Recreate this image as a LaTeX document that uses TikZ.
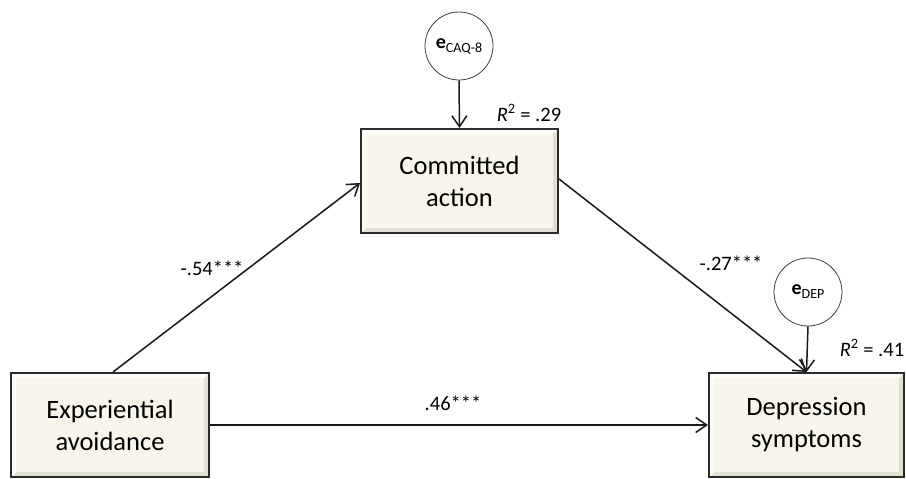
\documentclass[tikz,border=0pt]{standalone}
\usepackage{fontspec}
\setmainfont{Carlito}
\usetikzlibrary{arrows.meta}
\definecolor{boxfill}{HTML}{F8F6EA}
\definecolor{boxline}{HTML}{2B2B2B}
\definecolor{bevdark}{HTML}{E2E0D4}
\definecolor{bevlight}{HTML}{FDFCF7}
\begin{document}
\begin{tikzpicture}[x=1pt,y=-1pt,
  varbox/.style={draw=boxline, line width=2pt, fill=boxfill, minimum height=104pt,
    align=center, inner sep=0pt, font=\fontsize{26.5}{32}\selectfont,
    path picture={
      \fill[bevdark] (path picture bounding box.south west) -- (path picture bounding box.south east)
        -- (path picture bounding box.north east) -- ([xshift=-5pt,yshift=-5pt]path picture bounding box.north east)
        -- ([xshift=-5pt,yshift=5pt]path picture bounding box.south east)
        -- ([xshift=5pt,yshift=5pt]path picture bounding box.south west) -- cycle;
      \fill[bevlight] (path picture bounding box.south west) -- (path picture bounding box.north west)
        -- (path picture bounding box.north east) -- ([xshift=-5pt,yshift=-5pt]path picture bounding box.north east)
        -- ([xshift=5pt,yshift=-5pt]path picture bounding box.north west)
        -- ([xshift=5pt,yshift=5pt]path picture bounding box.south west) -- cycle;
    }},
  errc/.style={draw=black!75, line width=0.8pt, fill=white, circle, minimum size=68pt, inner sep=0pt},
  arr/.style={-{Straight Barb[length=11pt,width=15pt,line width=1.5pt]}, line width=1.5pt, draw=black!90},
  coef/.style={font=\fontsize{20.5}{24}\selectfont, inner sep=0pt},
  ebold/.style={font=\fontsize{20}{24}\selectfont}
]
\useasboundingbox[fill=white] (0,0) rectangle (906,479);

\node[varbox, minimum width=197pt] (ca) at (459.5,181) {Committed\\action};
\node[varbox, minimum width=198pt] (ea) at (110,425) {Experiential\\avoidance};
\node[varbox, minimum width=195pt] (ds) at (806.5,425) {Depression\\symptoms};

\node[errc] (ecaq) at (459,46) {{\fontsize{20}{24}\selectfont\bfseries e}\raisebox{-4pt}{\fontsize{14}{16}\selectfont CAQ-8}};
\node[errc] (edep) at (808,292) {{\fontsize{20}{24}\selectfont\bfseries e}\raisebox{-4pt}{\fontsize{14}{16}\selectfont DEP}};

\draw[arr] (ecaq.south) -- (ca.north);
\draw[arr] (edep.south) -- (ds.north);
\draw[arr] ([xshift=3pt]ea.north) -- ([yshift=-2pt]ca.west);
\draw[arr] ([yshift=2pt]ca.east) -- (ds.north);
\draw[arr] (ea.east) -- (ds.west);

\node[coef] (l1) at (212,268) {-.54***};
\node[coef] (l2) at (731,263) {-.27***};
\node[coef] (l3) at (453,403) {.46***};
\node[coef] (r1) at (529,113) {\textit{R}\textsuperscript{2} = .29};
\node[coef] (r2) at (872,348) {\textit{R}\textsuperscript{2} = .41};
\end{tikzpicture}
\end{document}
